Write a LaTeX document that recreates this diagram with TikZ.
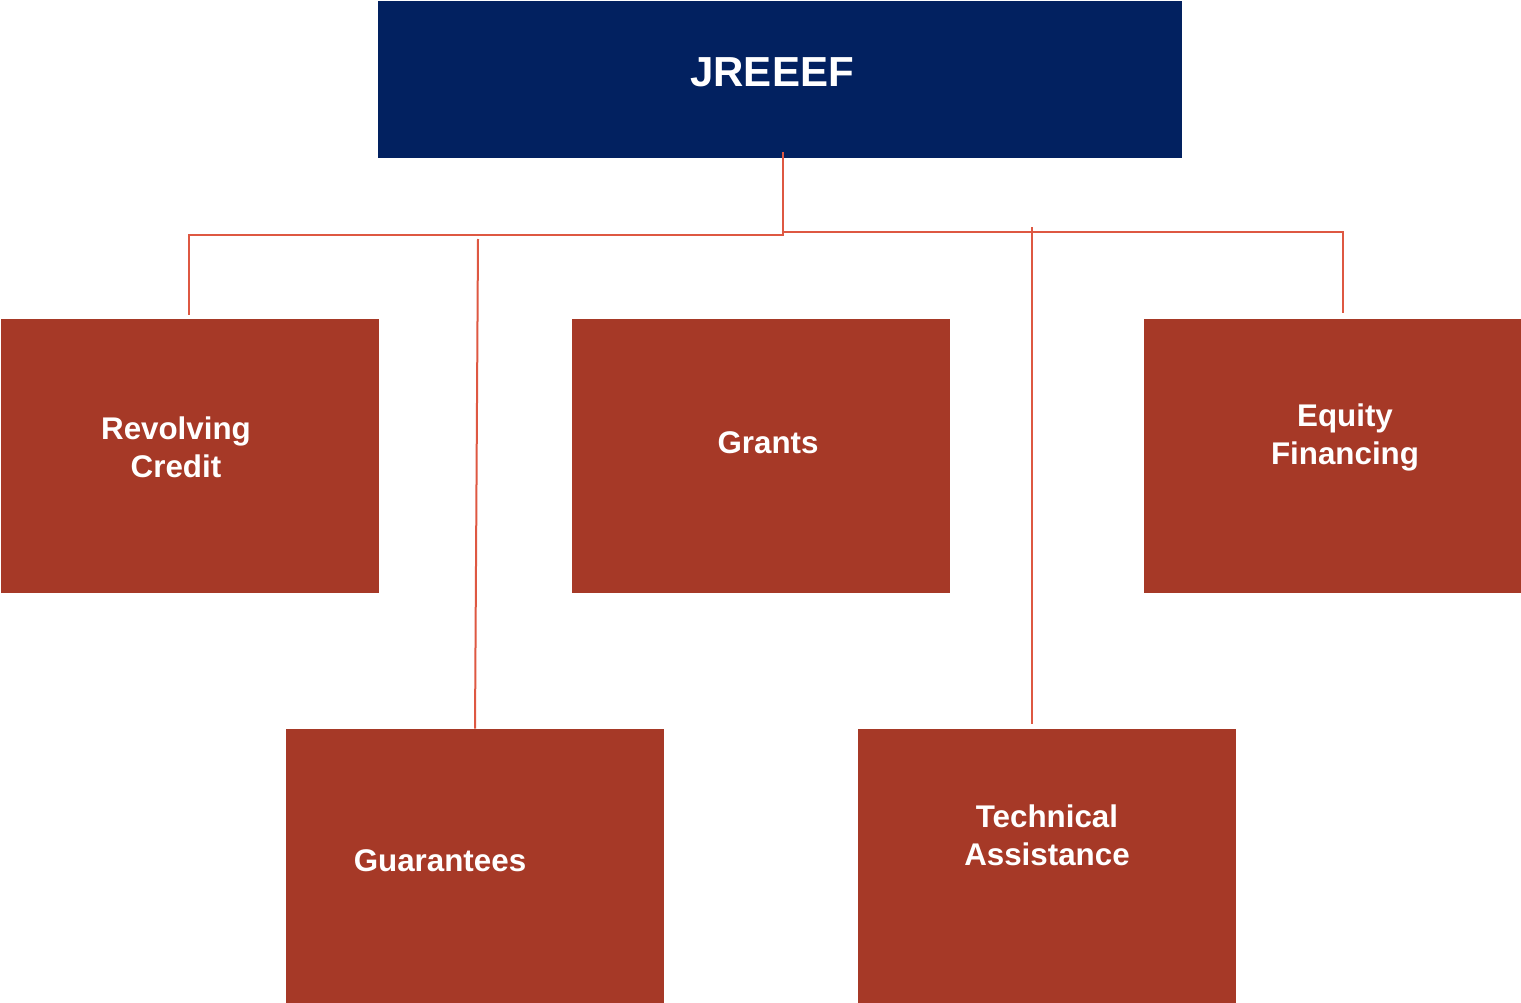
\documentclass[tikz,border=0pt]{standalone}
\usepackage{fontspec}
\setmainfont{Liberation Sans}
\definecolor{jnavy}{RGB}{2,33,96}
\definecolor{jbox}{RGB}{166,57,39}
\definecolor{jline}{RGB}{222,88,66}
\tikzset{
  headbox/.style={fill=jnavy, draw=none, minimum width=603pt, minimum height=117.75pt, inner sep=0pt},
  fundbox/.style={fill=jbox, draw=none, minimum width=283.5pt, minimum height=205.5pt, inner sep=0pt},
  headtxt/.style={text=white, font=\fontsize{31.5}{36}\selectfont\bfseries, inner sep=0.75pt},
  fundtxt/.style={text=white, font=\fontsize{23.5}{28.5}\selectfont\bfseries, align=center, inner sep=0.75pt},
  link/.style={draw=jline, line width=1.5pt}
}
\begin{document}
\begin{tikzpicture}[x=0.75pt,y=0.75pt,yscale=-1,xscale=1]
\useasboundingbox (0,0) rectangle (1521,1003);

% boxes
\node [headbox] (jre) at (780,79.5) {};
\node [fundbox] (rev) at (190,456) {};
\node [fundbox] (gra) at (761,456) {};
\node [fundbox] (equ) at (1332.5,456) {};
\node [fundbox] (gua) at (475,866) {};
\node [fundbox] (tec) at (1047,866) {};

% texts
\node [fundtxt] (revT) at (176,447) {Revolving\\Credit};
\node [headtxt] (jreT) at (772,72) {JREEEF};
\node [fundtxt] (graT) at (768,443) {Grants};
\node [fundtxt] (equT) at (1345,437) {Equity\\Financing};
\node [fundtxt] (guaT) at (440,861) {Guarantees};
\node [fundtxt] (tecT) at (1047,835) {Technical\\Assistance};

% junction points
\coordinate (stemTop) at (783,152);
\coordinate (hubL) at (783,235);
\coordinate (hubR) at (783,232);
\coordinate (revTop) at (189,315);
\coordinate (equTop) at (1343,313);
\coordinate (guaStart) at (478,239);
\coordinate (tecStart) at (1032,227);
\coordinate (tecEnd) at (1032,724);

% connectors
\draw [link] (stemTop) -- (hubL) -| (revTop);
\draw [link] (hubR) -| (equTop);
\draw [link] (guaStart) -- (gua.north -| 475,0);
\draw [link] (tecStart) -- (tecEnd);

\end{tikzpicture}
\end{document}
